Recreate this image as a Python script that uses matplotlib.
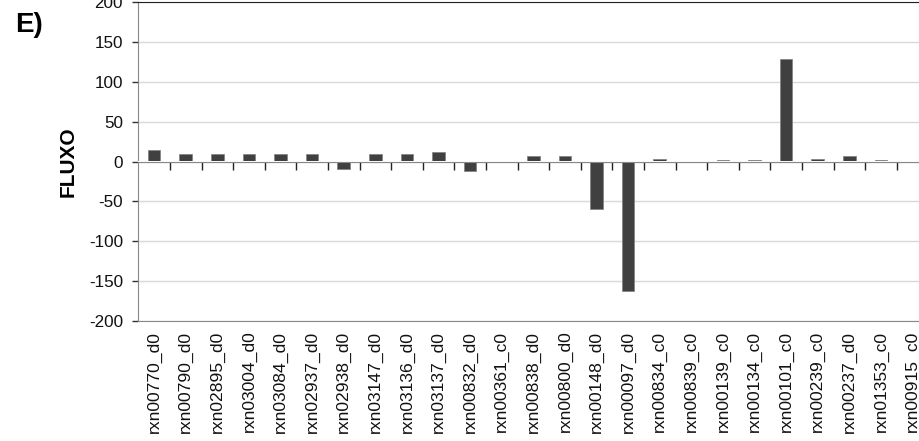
import numpy as np
import matplotlib
matplotlib.use("Agg")
import matplotlib.pyplot as plt

plt.rcParams['font.family'] = ['Liberation Sans', 'DejaVu Sans']
plt.rcParams['axes.unicode_minus'] = False

# reactions and their flux values
reactions = ['rxn00770_d0', 'rxn00790_d0', 'rxn02895_d0', 'rxn03004_d0', 'rxn03084_d0',
             'rxn02937_d0', 'rxn02938_d0', 'rxn03147_d0', 'rxn03136_d0', 'rxn03137_d0',
             'rxn00832_d0', 'rxn00361_c0', 'rxn00838_d0', 'rxn00800_d0', 'rxn00148_d0',
             'rxn00097_d0', 'rxn00834_c0', 'rxn00839_c0', 'rxn00139_c0', 'rxn00134_c0',
             'rxn00101_c0', 'rxn00239_c0', 'rxn00237_d0', 'rxn01353_c0', 'rxn00915_c0']
fluxo = [15, 9, 9, 9, 9,
         9, -10, 9, 9, 12,
         -12.5, 0, 7.5, 7.5, -60,
         -163, 3.5, 0, 2.5, 2.5,
         129, 3.5, 7.5, 1.5, 0]
y_ticks = [-200, -150, -100, -50, 0, 50, 100, 150, 200]

fig = plt.figure(figsize=(9.19, 4.41), dpi=100)
# axes runs past the right edge, like the cropped original
ax = fig.add_axes([138.3 / 919, 1 - 321 / 441, 790 / 919, 319 / 441])

x = np.arange(len(reactions))
ax.bar(x, fluxo, width=0.4, color='#404040', edgecolor='#808080', linewidth=0.5, zorder=2)

ax.set_xlim(-0.5, len(reactions) - 0.5)
ax.set_ylim(-200, 200)
ax.set_yticks(y_ticks)
ax.set_axisbelow(True)
ax.yaxis.grid(True, color='#d9d9d9', linewidth=1)

ax.set_xticks(x, labels=reactions, rotation=90)
ax.tick_params(axis='x', length=0, pad=7, labelsize=12.6, labelcolor='#111111')
ax.tick_params(axis='y', length=4, width=1, color='#333333', pad=7, labelsize=12.3,
               labelcolor='#111111')

ax.spines['right'].set_visible(False)
ax.spines['top'].set_color('#222222')
ax.spines['left'].set_color('#888888')
ax.spines['bottom'].set_color('#888888')

# zero line with category separators hanging below it
sec = ax.secondary_xaxis(0.5)
sec.set_alignment('bottom')
sec.set_xticks(np.arange(0.5, len(reactions), 1))
sec.tick_params(axis='x', direction='out', length=6, width=1, color='#222222',
                labelbottom=False, labeltop=False)
sec.spines['bottom'].set_color('#888888')
sec.set_zorder(3)

ax.set_ylabel('FLUXO', fontsize=15, fontweight='bold')
ax.yaxis.set_label_coords((78 - 138.3) / 790, 0.5)

fig.text(15 / 919, 1 - 32 / 441, 'E)', fontsize=20, fontweight='bold', va='baseline')

fig.savefig('out.png', dpi=100)
